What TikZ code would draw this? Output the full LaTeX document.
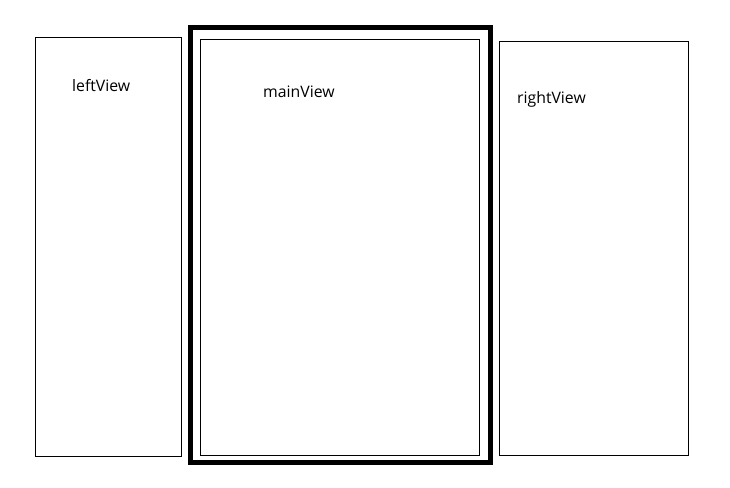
\documentclass[tikz,border=0pt]{standalone}
\usepackage{fontspec}
\setmainfont{Open Sans}
\usepackage{tikz}
\usetikzlibrary{positioning}
\tikzset{
    viewbox/.style = {rectangle, draw=black, line width=1pt, inner sep=0pt, outer sep=0pt},
    framebox/.style = {rectangle, draw=black, line width=5pt, inner sep=0pt, outer sep=0pt},
    viewlabel/.style = {anchor=base west, inner sep=0pt, font=\fontsize{15.8pt}{18pt}\selectfont},
}
\begin{document}
\begin{tikzpicture}[x=1pt, y=-1pt]
  \useasboundingbox (0,0) rectangle (730,487);
  \node[viewbox, minimum width=146pt, minimum height=418pt] (left) at (108,247) {};
  \node[framebox, minimum width=299.5pt, minimum height=435pt] (frame) at (340.25,245) {};
  \node[viewbox, minimum width=279pt, minimum height=416pt] (main) at (340,247.5) {};
  \node[viewbox, minimum width=189pt, minimum height=414pt] (right) at (594,248.5) {};
  % labels
  \node[viewlabel] (leftlbl) at (72,91) {leftView};
  \node[viewlabel] (mainlbl) at (263,97) {mainView};
  \node[viewlabel] (rightlbl) at (517,103) {rightView};
\end{tikzpicture}
\end{document}
